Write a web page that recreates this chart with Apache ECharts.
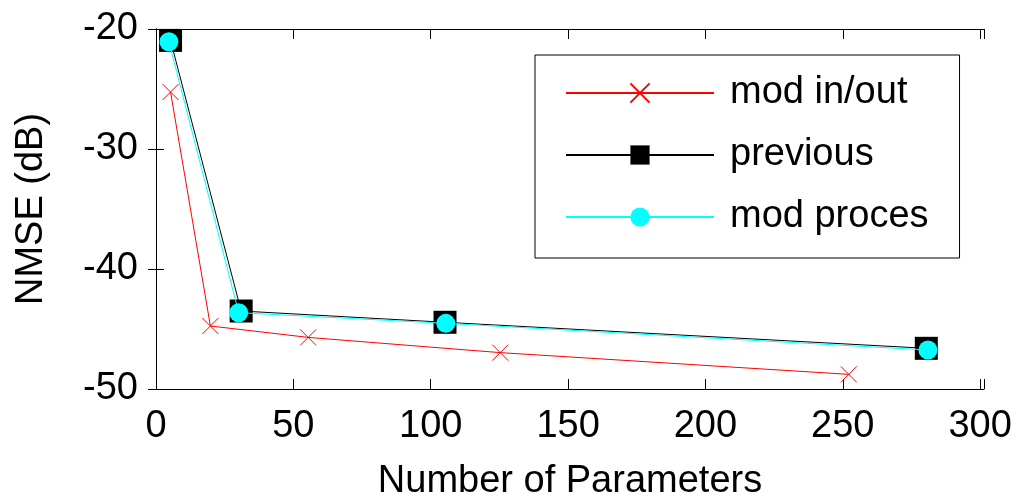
<!DOCTYPE html>
<html>
<head>
<meta charset="utf-8">
<script src="https://cdn.jsdelivr.net/npm/echarts@6/dist/echarts.min.js"></script>
<style>
  html, body { margin: 0; padding: 0; background: #fff; }
  #chart { width: 1021px; height: 497px; }
</style>
</head>
<body>
<div id="chart"></div>
<script>
// values
const paramsInOut = [5.3, 19.8, 55.4, 125.3, 252.2];
const nmseInOut = [-25.25, -44.75, -45.7, -46.97, -48.78];
const paramsPrev = [5.3, 31.0, 105.2, 280.4];
const nmsePrev = [-20.95, -43.5, -44.44, -46.61];
const paramsProc = [4.7, 30.1, 105.5, 281.0];
const nmseProc = [-21.06, -43.64, -44.53, -46.75];
const seriesNames = ['mod in/out', 'previous', 'mod proces'];

const font = 'Liberation Sans, Arial, sans-serif';

let zip = (xs, ys) => xs.map((x, i) => [x, ys[i]]);

// only the multiples of 50 get a label (max is a bit past 300)
let tickFmt = (v) => (Math.abs(v % 50) < 1e-9 ? String(v) : '');

let chart = echarts.init(document.getElementById('chart'), null, { renderer: 'canvas' });

let option = {
    animation: false,
    backgroundColor: '#fff',
    grid: { left: 156, right: 37, top: 29, bottom: 108, containLabel: false, outerBoundsMode: 'none' },
    legend: {
        orient: 'vertical',
        left: 535,
        top: 55,
        data: seriesNames,
        borderColor: '#000',
        borderWidth: 1,
        padding: [19, 31, 22, 30],
        itemGap: 24,
        itemWidth: 148,
        itemHeight: 24,
        backgroundColor: '#fff',
        textStyle: { fontSize: 38, fontFamily: font, color: '#000', padding: [0, 0, 0, 11] }
    },
    xAxis: [
        {
            type: 'value',
            min: 0,
            max: 301.4,
            interval: 50,
            name: 'Number of Parameters',
            nameLocation: 'middle',
            nameGap: 74,
            nameTextStyle: { fontSize: 38, fontFamily: font, color: '#000' },
            axisLine: { lineStyle: { color: '#000', width: 1 } },
            axisTick: { inside: true, length: 10, lineStyle: { color: '#000' } },
            axisLabel: { fontSize: 38, fontFamily: font, color: '#000', margin: 19, formatter: tickFmt },
            splitLine: { show: false }
        },
        {
            type: 'value',
            position: 'top',
            min: 0,
            max: 301.4,
            interval: 50,
            axisLine: { lineStyle: { color: '#000', width: 1 } },
            axisTick: { inside: true, length: 10, lineStyle: { color: '#000' } },
            axisLabel: { show: false },
            splitLine: { show: false }
        }
    ],
    yAxis: [
        {
            type: 'value',
            min: -50,
            max: -20,
            interval: 10,
            name: 'NMSE (dB)',
            nameLocation: 'middle',
            nameGap: 105,
            nameTextStyle: { fontSize: 38, fontFamily: font, color: '#000' },
            axisLine: { show: true, lineStyle: { color: '#000', width: 1 } },
            axisTick: { show: true, inside: true, length: 8, lineStyle: { color: '#000' } },
            axisLabel: { fontSize: 38, fontFamily: font, color: '#000', margin: 18 },
            splitLine: { show: false }
        },
        {
            type: 'value',
            position: 'right',
            min: -50,
            max: -20,
            interval: 10,
            axisLine: { show: true, lineStyle: { color: '#000', width: 1 } },
            axisTick: { show: true, inside: true, length: 8, lineStyle: { color: '#000' } },
            axisLabel: { show: false },
            splitLine: { show: false }
        }
    ],
    series: [
        {
            name: seriesNames[0],
            type: 'line',
            data: zip(paramsInOut, nmseInOut),
            symbol: 'path://M0,0L10,10M10,0L0,10',
            symbolSize: 16,
            showAllSymbol: true,
            lineStyle: { color: '#ff0000', width: 1 },
            itemStyle: { color: 'rgba(0,0,0,0)', borderColor: '#ff0000', borderWidth: 1 },
            z: 2
        },
        {
            name: seriesNames[1],
            type: 'line',
            data: zip(paramsPrev, nmsePrev),
            symbol: 'rect',
            symbolSize: 23,
            showAllSymbol: true,
            lineStyle: { color: '#000000', width: 1 },
            itemStyle: { color: '#000000', borderWidth: 0 },
            z: 3
        },
        {
            name: seriesNames[2],
            type: 'line',
            data: zip(paramsProc, nmseProc),
            symbol: 'circle',
            symbolSize: 19,
            showAllSymbol: true,
            lineStyle: { color: '#00ffff', width: 1 },
            itemStyle: { color: '#00ffff', borderWidth: 0 },
            z: 4
        }
    ]
};

chart.setOption(option);
</script>
</body>
</html>
